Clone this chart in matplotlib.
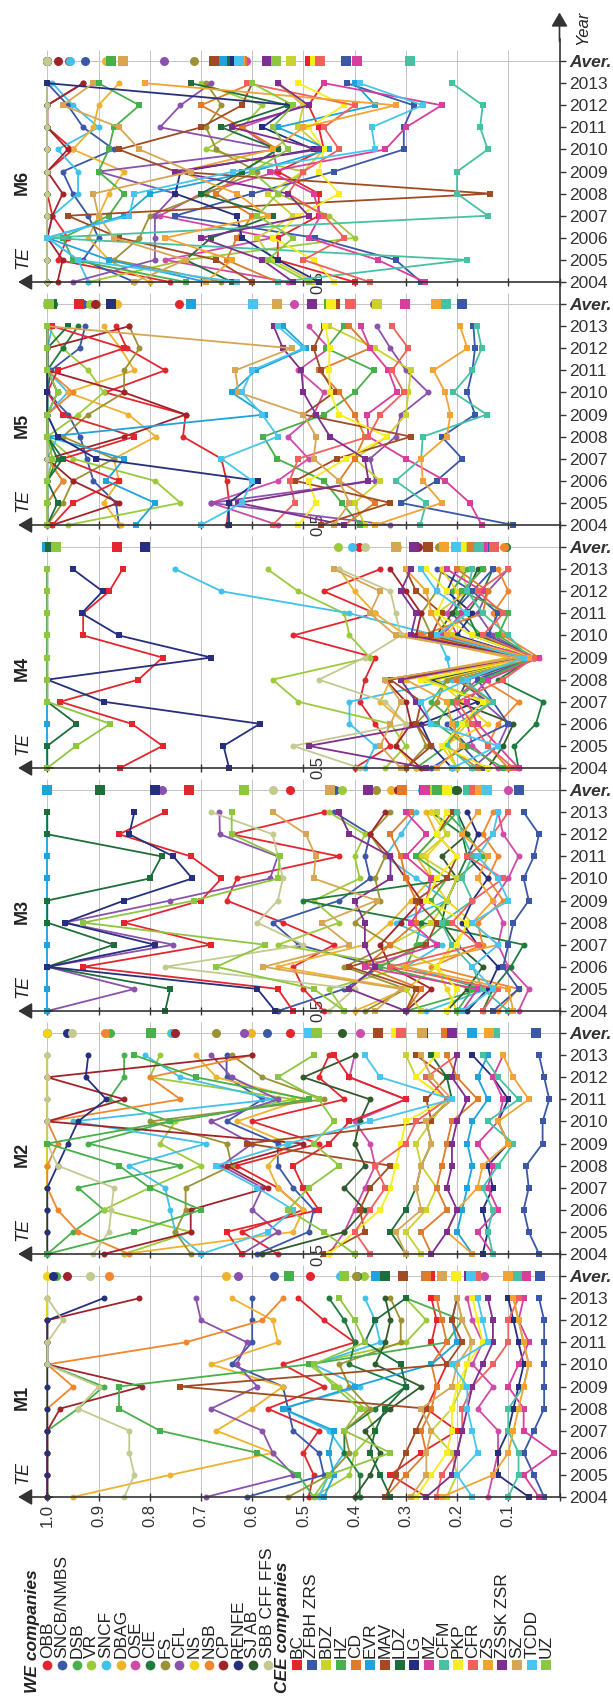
import numpy as np
import matplotlib
matplotlib.use("Agg")
import matplotlib.pyplot as plt

plt.rcParams['font.family'] = ['Liberation Sans', 'DejaVu Sans']

years = ['2004', '2005', '2006', '2007', '2008', '2009', '2010', '2011', '2012', '2013']

we_names = ['OBB', 'SNCB/NMBS', 'DSB', 'VR', 'SNCF', 'DBAG', 'OSE', 'CIE', 'FS', 'CFL',
            'NS', 'NSB', 'CP', 'RENFE', 'SJ AB', 'SBB CFF FFS']
cee_names = ['BC', 'ZFBH ZRS', 'BDZ', 'HZ', 'CD', 'EVR', 'MAV', 'LDZ', 'LG', 'MZ',
             'CFM', 'PKP', 'CFR', 'ZS', 'ZSSK ZSR', 'SZ', 'TCDD', 'UZ']

we_colors = ['#e3262d', '#3b57a7', '#47b04b', '#9bcb3b', '#3fc1e9', '#efb22e', '#cf4aa9', '#1e7d3b',
             '#9c9235', '#8b52ad', '#f1d319', '#f1862c', '#a0232a', '#262f7e', '#2f5b2d', '#c3c98f']
cee_colors = ['#e3262d', '#3b57a7', '#c9d22e', '#47b04b', '#e07b2b', '#1fa3dd', '#a14b22', '#1e6e3c',
              '#262f7e', '#d83e9c', '#46c1a2', '#f7ee1d', '#f0605d', '#f3a331', '#7e2e8e', '#d7a653',
              '#48c5ee', '#8dc63f']

# TE values 2004..2013, rows: 16 WE companies then 18 CEE companies
te_m1 = [
    [.49, .48, .50, .47, .57, .46, .54, .40, .46, .51],
    [.61, .46, .47, .52, .53, .54, .64, .60, .60, .60],
    [1, 1, 1, 1, .94, .89, 1, 1, 1, 1],
    [.48, .41, .40, .36, .38, .43, .49, .30, .26, .30],
    [.47, .45, .42, .45, .54, .39, .48, .35, .36, .38],
    [.95, .76, .56, .67, .60, .54, .68, .55, .56, .64],
    [.14, .13, .12, .12, .16, .13, .17, .15, .17, .18],
    [.39, .39, .42, .42, .36, .30, .41, .40, .42, .45],
    [.53, .45, .41, .42, .37, .41, .43, .31, .31, .33],
    [.69, .52, .56, .58, .68, .59, .63, .61, .70, .71],
    [1, 1, 1, 1, 1, 1, 1, 1, 1, 1],
    [1, 1, 1, 1, 1, .95, 1, .73, .58, .54],
    [1, 1, 1, 1, .975, .815, 1, 1, 1, .82],
    [1, 1, 1, 1, 1, 1, 1, 1, 1, .89],
    [.40, .37, .35, .38, .33, .27, .36, .34, .33, .34],
    [.85, .83, .84, .84, .94, .90, 1, 1, .97, 1],
    [.26, .33, .27, .20, .26, .24, .22, .25, .24, .25],
    [.03, .05, .07, .05, .03, .03, .03, .03, .03, .04],
    [.22, .20, .21, .25, .21, .19, .18, .17, .19, .20],
    [.48, .51, .59, .78, .86, .86, .49, .22, .19, .30],
    [.34, .30, .26, .27, .25, .24, .25, .22, .23, .24],
    [.46, .44, .45, .44, .54, .40, .25, .20, .21, .20],
    [.34, .32, .30, .28, .26, .74, .22, .19, .21, .20],
    [.33, .35, .37, .36, .34, .30, .31, .38, .36, .30],
    [.06, .12, .12, .10, .09, .08, .07, .08, .09, .10],
    [.04, .07, .01, .07, .07, .10, .08, .06, .08, .07],
    [.10, .08, .08, .10, .10, .07, .06, .07, .08, .09],
    [.28, .25, .22, .21, .21, .20, .18, .15, .16, .17],
    [.24, .23, .20, .19, .19, .17, .13, .10, .10, .08],
    [.23, .13, .10, .09, .08, .07, .06, .07, .08, .09],
    [.26, .21, .20, .19, .18, .17, .15, .13, .13, .14],
    [.29, .26, .26, .25, .27, .21, .20, .17, .19, .20],
    [.17, .20, .16, .17, .18, .18, .21, .14, .15, .16],
    [.48, .45, .33, .42, .39, .44, .48, .38, .40, .43],
]

te_m2 = [
    [.55, .62, .50, .55, .63, .47, .60, .42, .47, .45],
    [.59, .49, .48, .52, .55, .55, .65, .58, .65, .65],
    [1, .95, .89, .94, .74, .92, .76, .88, .85, .85],
    [.85, .72, .89, .80, .70, .78, .75, .52, .80, .78],
    [.70, .75, .76, .77, .84, .69, .95, .56, .74, .81],
    [.85, .52, .50, .55, .57, .53, .63, .50, .67, .71],
    [.45, .42, .40, .38, .36, .37, .40, .30, .41, .40],
    [1, 1, 1, 1, 1, 1, 1, 1, 1, 1],
    [.72, .75, .73, .73, .64, .65, .80, .46, .58, .64],
    [.62, .55, .60, .58, .66, .60, .68, .55, .64, .68],
    [1, 1, 1, 1, 1, 1, 1, 1, 1, 1],
    [.84, .94, .98, 1, 1, .98, 1, .74, .80, .60],
    [.89, .72, .72, .57, .65, .50, 1, .85, 1, .60],
    [1, 1, 1, 1, .98, .96, .94, .885, .925, .92],
    [.58, .42, .38, .42, .38, .40, .39, .37, .50, .40],
    [.91, .88, .875, .87, .98, 1, 1, 1, 1, 1],
    [.62, .65, .47, .50, .52, .45, .41, .30, .41, .44],
    [.04, .06, .07, .06, .065, .033, .033, .02, .03, .04],
    [.27, .30, .26, .24, .27, .28, .25, .22, .28, .30],
    [1, .83, .70, .80, .86, 1, .76, .49, .71, .83],
    [.25, .27, .22, .24, .23, .22, .21, .16, .20, .22],
    [.17, .20, .19, .18, .17, .18, .17, .14, .16, .14],
    [.46, .38, .39, .37, .33, .61, .25, .26, .22, .28],
    [.30, .33, .30, .28, .27, .25, .26, .21, .22, .25],
    [.15, .14, .15, .13, .14, .10, .12, .10, .13, .17],
    [.13, .16, .12, .14, .13, .16, .12, .11, .13, .11],
    [.13, .14, .13, .15, .12, .09, .14, .08, .12, .15],
    [.45, .40, .35, .33, .32, .31, .30, .22, .28, .24],
    [.37, .40, .37, .34, .36, .30, .28, .22, .26, .20],
    [.17, .22, .20, .16, .15, .10, .12, .06, .09, .11],
    [.25, .22, .20, .22, .21, .21, .20, .18, .21, .20],
    [.30, .32, .27, .28, .27, .25, .26, .21, .25, .27],
    [.70, .57, .52, .59, .67, .53, .37, .21, .35, .38],
    [.40, .46, .53, .49, .43, .48, .44, .47, .55, .48],
]

te_m3 = [
    [.46, .50, .52, .44, .54, .65, .63, .43, .64, .46],
    [.55, .42, .35, .51, .56, .43, .37, .38, .37, .44],
    [.30, .15, .30, .28, .27, .22, .20, .15, .18, .22],
    [.42, .45, .30, .55, .43, .48, .39, .40, .38, .45],
    [.26, .14, .30, .23, .32, .22, .28, .34, .31, .28],
    [.40, .30, .55, .38, .33, .29, .25, .28, .24, .26],
    [.08, .06, .10, .12, .11, .13, .10, .08, .11, .12],
    [.15, .13, .095, .07, .27, .50, .20, .18, .19, .25],
    [.38, .30, .42, .33, .40, .35, .36, .34, .37, .33],
    [1, .83, 1, .754, .966, .76, .565, .55, .663, .664],
    [.20, .22, .24, .21, .17, .22, .25, .26, .22, .25],
    [.12, .08, .25, .15, .16, .11, .14, .12, .15, .13],
    [.30, .25, .33, .35, .31, .27, .30, .33, .37, .34],
    [.18, .14, .12, .16, .19, .17, .14, .18, .16, .18],
    [.22, .18, .15, .20, .23, .22, .20, .23, .18, .20],
    [.45, .40, .77, .50, .59, .55, .54, .55, .56, .68],
    [.52, .55, .93, .68, .85, .70, .66, .72, .86, .77],
    [.13, .08, .11, .10, .09, .06, .07, .05, .04, .07],
    [.27, .30, .24, .33, .25, .22, .20, .27, .22, .24],
    [.20, .17, .35, .27, .22, .25, .22, .28, .24, .20],
    [.30, .27, .38, .33, .28, .28, .30, .31, .33, .29],
    [1, 1, 1, 1, 1, 1, 1, 1, 1, 1],
    [.30, .28, .41, .26, .24, .28, .22, .20, .24, .21],
    [.77, .76, 1, .87, 1, 1, .80, .777, 1, 1],
    [.555, .59, 1, .79, .966, .85, .717, .754, .84, .83],
    [.19, .16, .38, .24, .29, .26, .25, .30, .26, .30],
    [.10, .15, .17, .21, .23, .17, .19, .17, .19, .20],
    [.22, .20, .24, .20, .18, .26, .24, .20, .24, .22],
    [.15, .12, .33, .16, .21, .17, .11, .18, .13, .10],
    [.09, .10, .30, .12, .17, .13, .16, .14, .19, .16],
    [.30, .41, .36, .38, .38, .40, .33, .33, .41, .43],
    [.36, .31, .578, .41, .464, .357, .48, .476, .495, .56],
    [.19, .13, .17, .12, .17, .10, .12, .16, .13, .12],
    [.42, .48, .67, .575, .93, .713, .55, .546, .64, .64],
]

te_m4 = [
    [.40, .33, .36, .39, .38, .36, .52, .36, .46, .35],
    [.25, .18, .22, .14, .20, .05, .17, .21, .17, .24],
    [.28, .22, .20, .25, .22, .06, .15, .20, .21, .18],
    [.34, .30, .33, .51, .56, .37, .41, .42, .51, .57],
    [.38, .36, .41, .41, .21, .22, .24, .41, .66, .75],
    [.28, .32, .30, .35, .33, .10, .30, .36, .40, .43],
    [.12, .17, .18, .21, .16, .08, .20, .22, .19, .15],
    [.08, .088, .046, .033, .12, .05, .16, .18, .15, .13],
    [.30, .26, .28, .24, .22, .07, .25, .27, .24, .23],
    [.17, .12, .10, .15, .18, .05, .13, .16, .14, .10],
    [.20, .23, .14, .19, .24, .05, .22, .19, .20, .23],
    [.10, .14, .12, .08, .15, .04, .11, .13, .10, .12],
    [.27, .32, .29, .30, .34, .07, .28, .27, .30, .33],
    [.21, .25, .27, .16, .25, .06, .20, .17, .22, .20],
    [.14, .11, .09, .20, .18, .06, .24, .21, .18, .16],
    [.39, .52, .30, .34, .47, .38, .31, .32, .33, .43],
    [.858, .775, .835, .975, .822, .775, .93, .93, .879, .853],
    [.15, .19, .10, .13, .16, .05, .14, .12, .17, .13],
    [.20, .22, .18, .14, .26, .06, .21, .24, .18, .19],
    [.11, .18, .24, .21, .15, .05, .12, .10, .19, .15],
    [.16, .22, .19, .13, .20, .05, .27, .15, .14, .20],
    [1, 1, 1, 1, 1, 1, 1, 1, 1, 1],
    [.30, .25, .28, .27, .33, .07, .25, .23, .28, .30],
    [1, 1, .943, 1, 1, 1, 1, 1, 1, 1],
    [.645, .656, .585, .89, 1, .68, .86, .933, .892, .95],
    [.08, .12, .16, .18, .14, .04, .23, .19, .15, .22],
    [.17, .22, .20, .13, .19, .06, .10, .15, .18, .17],
    [.14, .23, .19, .15, .27, .05, .17, .24, .22, .26],
    [.09, .14, .17, .20, .11, .05, .15, .11, .16, .10],
    [.24, .19, .21, .22, .30, .06, .22, .25, .26, .30],
    [.26, .49, .25, .28, .31, .08, .29, .28, .31, .29],
    [.31, .35, .33, .31, .34, .08, .32, .37, .35, .44],
    [.21, .12, .25, .27, .18, .07, .24, .18, .24, .27],
    [1, .944, .877, 1, 1, 1, 1, 1, 1, 1],
]

te_m5 = [
    [.65, .645, .65, .66, .735, .73, .887, .77, .845, .865],
    [.86, .866, .91, .923, .936, .959, 1, .993, .937, .926],
    [1, 1, .97, 1, 1, 1, 1, 1, 1, 1],
    [.96, .74, .79, .95, 1, .94, .89, .92, .97, 1],
    [1, 1, 1, 1, .98, 1, .96, 1, 1, .99],
    [.857, .89, .86, .87, .788, .842, .96, .83, .857, .89],
    [.55, .68, .55, .49, .53, .48, .46, .51, .45, .49],
    [1, 1, 1, .98, 1, 1, 1, 1, .97, .94],
    [1, .97, .95, .87, .97, .92, .85, .85, .82, .84],
    [.33, .68, .36, .37, .32, .31, .256, .30, .33, .357],
    [1, 1, 1, 1, 1, 1, 1, 1, 1, 1],
    [1, 1, .97, 1, 1, 1, .95, 1, 1, 1],
    [.99, .86, .95, 1, .85, .73, .85, 1, 1, .84],
    [1, 1, 1, 1, 1, 1, .98, 1, 1, 1],
    [1, 1, 1, 1, 1, 1, 1, 1, 1, 1],
    [1, 1, 1, 1, 1, 1, 1, 1, 1, 1],
    [.99, .95, .86, .97, .83, .97, 1, .98, .85, .99],
    [.09, .31, .24, .19, .23, .165, .18, .17, .165, .168],
    [.38, .40, .35, .40, .337, .30, .295, .29, .36, .45],
    [.389, .425, .46, .552, .578, .46, .40, .363, .455, .42],
    [.42, .36, .43, .40, .38, .40, .43, .47, .37, .41],
    [.827, .79, .885, .85, 1, .575, .64, .593, .495, .54],
    [.466, .33, .516, .435, .29, .50, .44, .466, .48, .46],
    [1, .98, 1, .97, 1, 1, 1, 1, 1, .96],
    [.645, .646, .588, .904, .98, 1, 1, 1, 1, 1],
    [.152, .175, .223, .30, .373, .376, .318, .334, .37, .388],
    [.272, .26, .32, .27, .267, .142, .207, .17, .152, .161],
    [.51, .475, .49, .417, .337, .43, .448, .45, .449, .457],
    [.56, .517, .527, .51, .373, .35, .304, .327, .295, .327],
    [.36, .23, .267, .27, .22, .213, .223, .246, .18, .194],
    [.42, .627, .373, .38, .448, .475, .50, .504, .54, .558],
    [.44, .41, .43, .48, .475, .50, .627, .633, .523, 1],
    [.70, .62, .60, .66, .55, .58, .62, .60, .50, .55],
    [1, 1, 1, .99, 1, 1, .98, 1, 1, 1],
]

te_m6 = [
    [.76, .98, .96, .99, 1, 1, .95, 1, 1, .93],
    [.83, .93, .90, .92, .95, .97, .87, .93, .96, 1],
    [1, 1, 1, 1, 1, 1, 1, 1, 1, 1],
    [.92, .73, .40, .45, .55, .50, .69, .62, .58, .70],
    [.92, .94, 1, .99, .94, .94, .98, .90, .95, .99],
    [.80, .88, .92, .90, .88, .85, .95, .91, .90, .86],
    [.53, .77, .56, .78, .70, .55, .56, .62, .50, .55],
    [1, 1, 1, 1, 1, 1, 1, 1, 1, 1],
    [.66, .87, .82, .80, .69, .59, .67, .69, .66, .69],
    [.95, .79, .79, .79, .75, .90, .55, .78, .74, .68],
    [1, 1, 1, 1, 1, 1, 1, 1, 1, 1],
    [1, 1, 1, 1, 1, 1, 1, 1, 1, 1],
    [.98, .97, 1, .99, .97, 1, .96, 1, 1, .93],
    [1, 1, 1, 1, 1, 1, 1, 1, 1, 1],
    [1, 1, 1, 1, 1, 1, 1, 1, 1, 1],
    [1, 1, 1, 1, 1, 1, 1, 1, 1, 1],
    [.40, .55, .55, .47, .47, .55, .46, .47, .49, .46],
    [.27, .32, .477, .75, .60, .44, .304, .304, .285, .415],
    [.48, .56, .59, .52, .57, .50, .46, .51, .50, .55],
    [.73, .95, .97, .88, .85, .90, .88, .87, .82, .90],
    [.55, .65, .63, .60, .67, .62, .55, .62, .70, .60],
    [.69, .88, 1, .85, .80, .60, .45, .55, .36, .40],
    [.60, .67, .86, .96, .135, .75, .86, .70, .62, .60],
    [.64, .73, .68, .56, .70, .62, .55, .66, .53, .72],
    [.47, .55, .62, .63, .75, .74, .48, .58, .52, 1],
    [.263, .355, .49, .467, .48, .565, .34, .30, .23, .46],
    [.55, .18, 1, .14, .20, .20, .14, .155, .15, .21],
    [.44, .48, .56, .51, .43, .47, .46, .49, .42, .51],
    [.37, .50, .42, .46, .53, .50, .43, .46, .40, .61],
    [.69, .64, .77, .57, .63, .74, .56, .50, .32, .81],
    [.52, .58, .70, .49, .53, .75, .47, .64, .49, .55],
    [.83, .73, .87, .90, .91, .72, .82, .86, .97, .91],
    [.63, .94, 1, .84, .83, .637, .36, .367, .267, .39],
    [.49, .57, .52, .59, .55, .60, .53, .56, .52, .60],
]

models = [te_m1, te_m2, te_m3, te_m4, te_m5, te_m6]
names = we_names + cee_names
colors = we_colors + cee_colors
markers = ['o'] * len(we_names) + ['s'] * len(cee_names)

W, H = 613, 1697
x_one, x_zero = 47.3, 559.5
panel_h = 243
axis_col = '#333333'

fig = plt.figure(figsize=(W / 100, H / 100), dpi=100)

arrow = dict(arrowstyle='-|>,head_length=0.6,head_width=0.35', color=axis_col, lw=1.2,
             shrinkA=0, shrinkB=0, mutation_scale=14)

for p, data in enumerate(models):
    y0 = 1497 - panel_h * p
    ax = fig.add_axes([x_one / W, (H - y0) / H, (x_zero - x_one) / W, panel_h / H])
    ax.patch.set_visible(False)
    ax.set_xlim(1, 0)
    ax.set_ylim(0, 11)

    ax.vlines(np.arange(0.1, 1.01, 0.1), 0, 10.5, colors='#c4c4c4', lw=0.7, zorder=0)
    ax.hlines(10, 0, 1, colors='#c4c4c4', lw=0.7, zorder=0)

    yy = np.arange(len(years))
    for i in range(len(names)):
        vals = np.array(data[i])
        ax.plot(vals, yy, color=colors[i], marker=markers[i], ms=4.3, mew=0, lw=1.3,
                clip_on=False, zorder=3)
        ax.plot([vals.mean()], [10], color=colors[i], marker=markers[i], ms=6.5, mew=0,
                ls='none', clip_on=False, zorder=3)

    for s in ['top', 'left']:
        ax.spines[s].set_visible(False)
    for s in ['bottom', 'right']:
        ax.spines[s].set_color(axis_col)
        ax.spines[s].set_linewidth(1.2)
        ax.spines[s].set_zorder(4)

    ax.set_xticks(np.arange(0, 1.01, 0.1))
    if p == 0:
        ax.set_xticklabels([''] + ['%.1f' % v for v in np.arange(0.1, 1.01, 0.1)])
    else:
        ax.set_xticklabels([''] * 11)
        ax.text(0.472, 0, '0.5', rotation=90, ha='center', va='center', fontsize=12,
                color=axis_col, zorder=2)
    ax.tick_params(axis='x', direction='inout', length=6, width=1, colors=axis_col,
                   labelsize=12, labelrotation=90, pad=2)

    ax.yaxis.tick_right()
    ax.set_yticks(range(11))
    ax.set_yticklabels(years + ['Aver.'])
    ax.tick_params(axis='y', direction='out', length=4, width=1, colors=axis_col,
                   labelsize=12.5, pad=3)
    lbl = ax.get_yticklabels()[10]
    lbl.set_fontweight('bold')
    lbl.set_fontstyle('italic')

    ax.annotate('', xy=(1.057, 0), xytext=(0.99, 0), arrowprops=arrow, annotation_clip=False)
    ax.text(1.047, 1.1, 'TE', rotation=90, style='italic', fontsize=13, ha='center',
            va='center', color='#222222')
    ax.text(1.049, 4.5, 'M%d' % (p + 1), rotation=90, fontweight='bold', fontsize=13,
            ha='center', va='center', color='#222222')

    if p == len(models) - 1:
        ax.annotate('', xy=(0, 12.2), xytext=(0, 10.9), arrowprops=arrow, annotation_clip=False)
        ax.text(-0.046, 11.5, 'Year', rotation=90, style='italic', fontsize=12,
                ha='center', va='center', color='#222222')

# legend: one column per company, text rotated
step = 14.68
lax = fig.add_axes([0, 0, 1, 165 / H])
lax.set_xlim(-x_one / step, (W - x_one) / step)
lax.set_ylim(0, 165)
lax.axis('off')

lax.text(-1, 4, 'WE companies', rotation=90, ha='center', va='bottom', fontsize=12.5,
         fontweight='bold', style='italic', color='#222222')
lax.text(16, 4, 'CEE companies', rotation=90, ha='center', va='bottom', fontsize=12.5,
         fontweight='bold', style='italic', color='#222222')
cols = list(range(16)) + list(range(17, 35))
for k, nm, c, m in zip(cols, names, colors, markers):
    lax.plot([k], [32], marker=m, color=c, ms=7, mew=0, ls='none')
    lax.text(k, 39, nm, rotation=90, ha='center', va='bottom', fontsize=12.5, color='#222222')

fig.savefig('out.png', dpi=100)
